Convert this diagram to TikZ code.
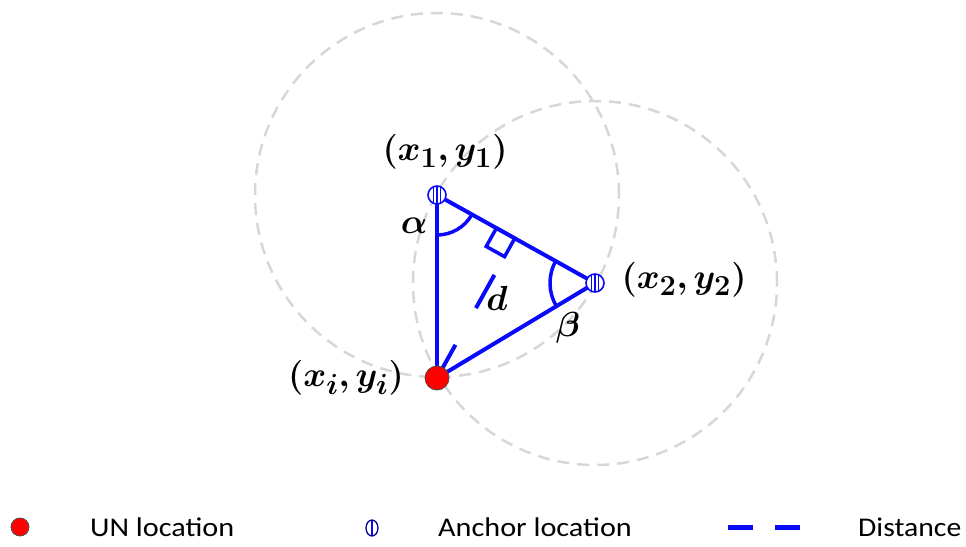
\documentclass[tikz,border=0pt]{standalone}
\usepackage{amsmath,bm}
\usepackage{fontspec}
\setsansfont{Carlito}
\usetikzlibrary{calc}
\definecolor{ablue}{RGB}{10,10,250}
\definecolor{cgray}{RGB}{215,215,215}
\newcommand{\biglbl}[1]{\scalebox{1.4}{$\bm{#1}$}}
\tikzset{
  rangecircle/.style={draw=cgray,line width=2.5pt,dash pattern=on 12pt off 8pt},
  edge/.style={draw=ablue,line width=4pt},
  dist/.style={draw=ablue,line width=4pt,dash pattern=on 38pt off 42pt},
  unnode/.style={circle,fill=red,draw=black!70,line width=0.8pt,minimum size=24pt,inner sep=0pt},
  lbl/.style={font=\fontsize{24.88}{30}\selectfont,inner sep=0pt},
  legtext/.style={font=\sffamily\fontsize{27}{32}\selectfont,anchor=west,inner sep=0pt},
}
\newcommand{\anchorsym}[2]{%
  \begin{scope}
    \clip (#1) circle[radius=9pt];
    \fill[white] (#1) circle[radius=9pt];
    \foreach \dx in {-3.5,0,3.5}{\draw[ablue,line width=1.8pt] ($(#1)+(\dx pt,-10pt)$) -- ($(#1)+(\dx pt,10pt)$);}
  \end{scope}
  \draw[ablue,line width=1.6pt] (#1) circle[radius=9pt];
  \node[inner sep=0pt,minimum size=18pt] (#2) at (#1) {};
}
\begin{document}
\begin{tikzpicture}[x=1pt,y=-1pt]
\useasboundingbox (0,0) rectangle (966,546);
% coordinates
\coordinate (A1) at (437,195);
\coordinate (A2) at (595,283);
\coordinate (U) at (437,378);
% range circles
\draw[rangecircle] (A1) circle[radius=182pt];
\draw[rangecircle] (A2) circle[radius=182pt];
% perpendicular foot and box
\coordinate (F) at ($(A1)!(U)!(A2)$);
\coordinate (P1) at ($(F)!21pt!(A1)$);
\coordinate (P3) at ($(F)!21pt!(U)$);
\coordinate (P2) at ($(P1)+(P3)-(F)$);
% triangle edges
\draw[edge] (A1) -- (U);
\draw[edge] (A1) -- (A2);
\draw[edge] (A2) -- (U);
\draw[dist] (U) -- (P3);
\draw[draw=ablue,line width=3.5pt,line join=miter] (F) -- (P1) -- (P2) -- (P3) -- cycle;
% angle arcs
\draw[ablue,line width=3.5pt] (A1) ++(270:40pt) arc[start angle=270,end angle=330.9,radius=40pt];
\draw[ablue,line width=3.5pt] (A2) ++(150.9:45pt) arc[start angle=150.9,end angle=211,radius=45pt];
% nodes
\anchorsym{A1}{a1}
\anchorsym{A2}{a2}
\node[unnode] (un) at (U) {};
% labels
\node[lbl] (l1) at (445,152) {\biglbl{(x_1,y_1)}};
\node[lbl] (l2) at (684,280) {\biglbl{(x_2,y_2)}};
\node[lbl] (li) at (346,378) {\biglbl{(x_i,y_i)}};
\node[lbl] (la) at (414,226) {\biglbl{\alpha}};
\node[lbl] (ld) at (497,298) {\biglbl{d}};
\node[lbl] (lb) at (568,328) {\biglbl{\beta}};
% legend
\node[unnode,minimum size=18pt] (legun) at (20,527) {};
\node[legtext] (legunt) at (90,527) {\scalebox{1.12}[1]{UN location}};
\begin{scope}
  \clip (372,528) ellipse[x radius=6pt,y radius=8pt];
  \fill[white] (372,528) ellipse[x radius=6pt,y radius=8pt];
  \draw[ablue,line width=2.2pt] (372,518) -- (372,538);
\end{scope}
\draw[ablue!60!black,line width=1.3pt] (372,528) ellipse[x radius=6pt,y radius=8pt];
\node[inner sep=0pt,minimum width=12pt,minimum height=16pt] (legan) at (372,528) {};
\node[legtext] (legant) at (438,527) {\scalebox{1.12}[1]{Anchor location}};
\coordinate (ld1) at (728,527);
\coordinate (ld2) at (800,527);
\draw[ablue,line width=5pt,dash pattern=on 25pt off 22pt] (ld1) -- (ld2);
\node[legtext] (legdt) at (858,527) {\scalebox{1.1}[1]{Distance}};
\end{tikzpicture}
\end{document}
